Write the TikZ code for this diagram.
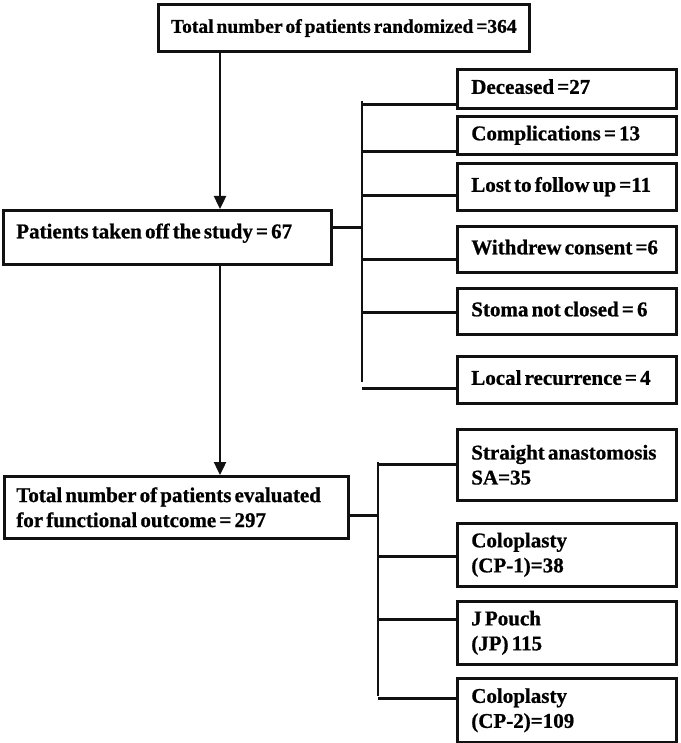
\documentclass[tikz,border=0pt]{standalone}
\usepackage{fontspec}
\setmainfont{Liberation Serif}[WordSpace=0.6, BoldFeatures={FakeBold=0.8}]
\usetikzlibrary{arrows.meta, positioning, calc}
\definecolor{chartink}{HTML}{111111}
\tikzset{
  >={Triangle[length=13pt, width=12pt]},
  box/.style={rectangle, draw=chartink, line width=2.6pt, anchor=north west, align=flush left,
              inner ysep=0pt, font=\fontsize{21}{25}\selectfont\bfseries},
  boxr/.style={box, text width=191pt, inner xsep=14pt},
  one/.style={text height=14pt, text depth=4pt},
  link/.style={line width=2.4pt, draw=chartink},
  flow/.style={->, line width=2.4pt, draw=chartink},
}

\begin{document}
\begin{tikzpicture}[x=1pt, y=-1pt]
  \useasboundingbox (0,0) rectangle (680,743);
  \node[box, one, align=center, minimum width=371pt, minimum height=47pt,
        font=\fontsize{19.5}{22}\selectfont\bfseries] (rand) at (157,3) {Total number of patients randomized =364};
  \node[box, text width=302pt, inner xsep=13pt, minimum height=54pt, text height=14pt, text depth=12pt] (off) at (2,209) {Patients taken off the study = 67};
  \node[box, text width=320pt, inner xsep=12pt, minimum height=62pt] (evald) at (3,475) {Total number of patients evaluated\\for functional outcome = 297};

  \node[boxr, one, minimum height=39pt] (dec) at (456,68) {Deceased =27};
  \node[boxr, one, minimum height=38pt] (comp) at (456,115) {Complications = 13};
  \node[boxr, one, minimum height=47pt] (lost) at (456,162) {Lost to follow up =11};
  \node[boxr, one, minimum height=46pt] (withd) at (456,225) {Withdrew consent =6};
  \node[boxr, one, minimum height=46pt] (stoma) at (456,287) {Stoma not closed = 6};
  \node[boxr, one, minimum height=47pt] (local) at (456,355) {Local recurrence = 4};

  \node[boxr, minimum height=71pt] (sa) at (456,428) {Straight anastomosis\\SA=35};
  \node[boxr, minimum height=63pt] (cpa) at (456,522) {Coloplasty\\(CP-1)=38};
  \node[boxr, minimum height=63pt] (jp) at (456,600) {J Pouch\\(JP) 115};
  \node[boxr, minimum height=64pt] (cpb) at (456,677) {Coloplasty\\(CP-2)=109};

  \draw[flow] ([xshift=63pt]rand.south west) -- ([xshift=63pt]rand.south west |- off.north);
  \draw[flow] ([xshift=218pt]off.south west) -- ([xshift=218pt]off.south west |- evald.north);

  \coordinate (offtop) at (362,101);
  \coordinate (offbot) at (362,382);
  \draw[link] ([yshift=10pt]off.east) -- ([yshift=10pt]off.east -| offtop);
  \draw[link] (offtop) -- (offbot);
  \foreach \n/\s in {dec/5, comp/4, lost/16, withd/14, stoma/23, local/16}{ \draw[link] ([yshift=\s pt]\n.south west) -- ([yshift=\s pt]\n.south west -| offtop); }

  \coordinate (evtop) at (378,462);
  \coordinate (evbot) at (378,696);
  \draw[link] ([yshift=-8pt]evald.east) -- ([yshift=-8pt]evald.east -| evtop);
  \draw[link] (evtop) -- (evbot);
  \foreach \n/\s in {sa/37, cpa/31, jp/46, cpb/45}{ \draw[link] ([yshift=\s pt]\n.south west) -- ([yshift=\s pt]\n.south west -| evtop); }
\end{tikzpicture}
\end{document}
